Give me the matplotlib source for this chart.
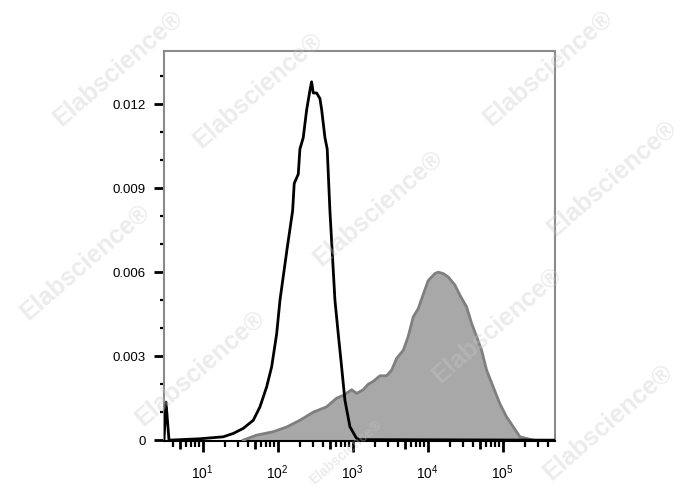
import matplotlib
matplotlib.use('Agg')
import matplotlib.pyplot as plt
import numpy as np
from matplotlib.ticker import FixedLocator, FixedFormatter

plt.rcParams['font.family'] = ['Liberation Sans', 'DejaVu Sans']
plt.rcParams['mathtext.fontset'] = 'custom'
plt.rcParams['mathtext.rm'] = 'Liberation Sans'

# control histogram (open black line), x given as log10 of intensity
ctrl_logx = [0.484, 0.511, 0.551, 0.964, 1.275, 1.408, 1.541, 1.675, 1.764, 1.853,
             1.920, 1.987, 2.031, 2.124, 2.200, 2.221, 2.275, 2.297, 2.341, 2.387,
             2.431, 2.453, 2.475, 2.520, 2.564, 2.587, 2.631, 2.661, 2.697, 2.764,
             2.808, 2.853, 2.897, 2.964, 3.053, 3.097, 5.697]
ctrl_y = [0.0, 0.00136, 0.0, 0.00005, 0.00012, 0.00024, 0.00042, 0.00071, 0.00119, 0.0019,
          0.00262, 0.0038, 0.0050, 0.0068, 0.0082, 0.00917, 0.0095, 0.0104, 0.0108, 0.0118,
          0.0125, 0.0128, 0.0124, 0.0124, 0.0122, 0.0118, 0.0108, 0.0104, 0.0082, 0.0050,
          0.0038, 0.00262, 0.00143, 0.00048, 0.00006, 0.00002, 0.0]

# stained sample (filled gray)
stain_logx = [1.541, 1.720, 1.941, 2.120, 2.297, 2.475, 2.653, 2.787, 2.875, 2.987,
              3.053, 3.141, 3.208, 3.275, 3.364, 3.453, 3.520, 3.587, 3.675, 3.741,
              3.808, 3.875, 3.941, 4.008, 4.097, 4.141, 4.208, 4.275, 4.364, 4.431,
              4.520, 4.587, 4.653, 4.720, 4.787, 4.875, 4.964, 5.053, 5.141, 5.231,
              5.320, 5.408]
stain_y = [0.0, 0.00018, 0.0003, 0.00047, 0.00071, 0.0010, 0.00119, 0.0015, 0.0016, 0.0018,
           0.00167, 0.0018, 0.0020, 0.0021, 0.0023, 0.0023, 0.0025, 0.00292, 0.00321, 0.0037,
           0.0044, 0.0047, 0.0052, 0.0057, 0.00595, 0.0060, 0.00595, 0.00583, 0.00554, 0.00518,
           0.00476, 0.00417, 0.0037, 0.00321, 0.0025, 0.0019, 0.0013, 0.00083, 0.00048, 0.00012,
           0.00006, 0.0]

y_ticks = [0, 0.003, 0.006, 0.009, 0.012]
y_labels = ['0', '0.003', '0.006', '0.009', '0.012']
decades = [1, 2, 3, 4, 5]

fig = plt.figure(figsize=(6.88, 4.90), dpi=100)
ax = fig.add_axes([164 / 688, 1 - 441 / 490, (555 - 164) / 688, (441 - 51) / 490])

sx = 10 ** np.array(stain_logx)
ax.fill_between(sx, stain_y, 0, color='#a9a8a8', lw=0, zorder=2)
ax.plot(sx, stain_y, color='#7f7f7f', lw=2, zorder=3)
ax.plot(10 ** np.array(ctrl_logx), ctrl_y, color='black', lw=2, zorder=4)

ax.set_xscale('log')
ax.set_xlim(3.05, 5e5)
ax.set_ylim(-0.00003, 0.0139)

# x ticks: decades long, 5x medium, others short
major = [10.0 ** d for d in decades] + [5 * 10.0 ** d for d in [0, 1, 2, 3, 4]]
ax.xaxis.set_major_locator(FixedLocator(major))
ax.xaxis.set_major_formatter(FixedFormatter(['$10^{%d}$' % d for d in decades] + [''] * 5))
minor = [k * 10.0 ** d for d in range(0, 6) for k in (2, 3, 4, 6, 7, 8, 9)]
minor = [m for m in minor if 3.05 < m < 5e5]
ax.xaxis.set_minor_locator(FixedLocator(minor))
ax.tick_params(axis='x', which='major', length=8, width=2, direction='out',
               labelsize=10, pad=8, color='black')
ax.tick_params(axis='x', which='minor', length=4, width=1.6, direction='out', color='black')
for t in ax.xaxis.get_major_ticks()[len(decades):]:
    t.tick1line.set_markersize(5.5)

ax.yaxis.set_major_locator(FixedLocator(y_ticks))
ax.yaxis.set_major_formatter(FixedFormatter(y_labels))
ax.yaxis.set_minor_locator(FixedLocator([i * 0.001 for i in range(14) if i % 3 != 0]))
ax.tick_params(axis='y', which='major', length=7, width=2, direction='out',
               labelsize=9.5, pad=6, color='black')
ax.tick_params(axis='y', which='minor', length=3, width=1.6, direction='out', color='black')

for s in ['left', 'top', 'right']:
    ax.spines[s].set_color('#8a8a8a')
    ax.spines[s].set_linewidth(1.5)
ax.spines['bottom'].set_color('black')
ax.spines['bottom'].set_linewidth(1.5)

# watermark (edge ones nudged in / shrunk so they stay on the canvas)
marks = [(118, 68, 18), (258, 90, 18), (548, 68, 18), (378, 208, 18), (85, 262, 18),
         (497, 325, 18), (612, 178, 18), (200, 368, 18), (608, 422, 18), (345, 452, 10)]
for px, py, fs in marks:
    fig.text(px / 688, 1 - py / 490, 'Elabscience\u00ae', rotation=41, ha='center', va='center',
             rotation_mode='anchor', fontsize=fs, fontweight='bold', color='#c8c8c8',
             alpha=0.35, zorder=10)

fig.savefig('out.png', dpi=100)
